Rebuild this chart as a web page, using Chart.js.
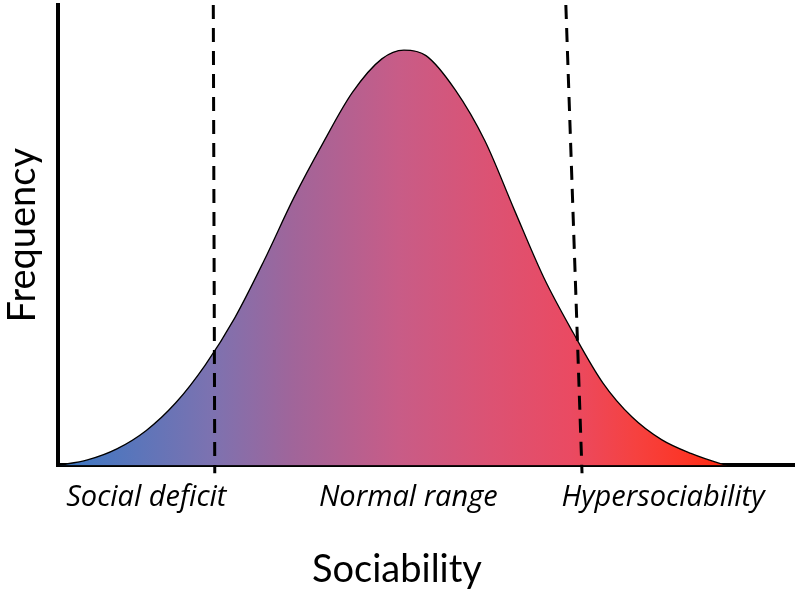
<!DOCTYPE html>
<html>
<head>
<meta charset="utf-8">
<script src="https://cdn.jsdelivr.net/npm/chart.js@4/dist/chart.umd.min.js"></script>
<style>
  html, body { margin: 0; padding: 0; background: #fff; }
  #wrap { width: 800px; height: 600px; }
</style>
</head>
<body>
<div id="wrap"><canvas id="chart"></canvas></div>
<script>
// sociability (0-100) vs frequency (0-100)
const sociability = [0, 4, 8, 12, 16, 20, 24, 28, 32, 36, 40, 44, 47, 50, 54, 58, 62, 66, 70, 74, 78, 82, 86, 90, 91];
const frequency   = [0, 1.2, 3.6, 7.6, 13.6, 21.8, 32, 44.5, 58, 70, 81, 88.3, 90.2, 89, 81.5, 70.5, 55.5, 40.8, 28.8, 18, 10.5, 5.6, 2.6, 0.4, 0];

// dashed cut-off lines (top and bottom ends)
const deficitCutX = [21.1, 21.3];
const hyperCutX   = [69.0, 71.2];
const cutY        = [100, -1.7];

const regionLabels  = ['Social deficit', 'Normal range', 'Hypersociability'];
const regionCenters = [12.0, 47.6, 82.2];

const gradStops  = [0, 0.23, 0.35, 0.51, 0.65, 0.77, 0.87, 0.94, 1];
const gradColors = ['#3a78c4', '#7d72b0', '#a0659a', '#c85c87', '#dc5273', '#ea4a62', '#f6413f', '#fc3628', '#ff2a12'];

const curvePts = sociability.map((x, i) => ({ x: x, y: frequency[i] }));
const cutLine = xs => xs.map((x, i) => ({ x: x, y: cutY[i] }));

function curveFill(context) {
    const chart = context.chart;
    const xs = chart.scales.x;
    if (!xs || !chart.chartArea) return 'rgba(0,0,0,0)';
    const g = chart.ctx.createLinearGradient(xs.getPixelForValue(0.3), 0, xs.getPixelForValue(90.4), 0);
    gradStops.forEach((s, i) => g.addColorStop(s, gradColors[i]));
    return g;
}

const dashed = {
    borderColor: '#000',
    borderWidth: 3,
    borderDash: [14, 9],
    pointRadius: 0,
    fill: false,
    clip: false
};

new Chart(document.getElementById('chart'), {
    type: 'line',
    data: {
        datasets: [
            { ...dashed, data: cutLine(deficitCutX) },
            { ...dashed, data: cutLine(hyperCutX) },
            {
                data: curvePts,
                borderColor: '#000',
                borderWidth: 1.3,
                backgroundColor: curveFill,
                fill: 'origin',
                pointRadius: 0,
                cubicInterpolationMode: 'monotone'
            }
        ]
    },
    options: {
        responsive: true,
        maintainAspectRatio: false,
        animation: false,
        layout: { padding: { top: 5, right: 6, left: 0, bottom: 0 } },
        scales: {
            x: {
                type: 'linear',
                min: 0,
                max: 100,
                z: 1,
                grid: { display: false, drawTicks: false },
                border: { display: true, color: '#000', width: 4 },
                afterBuildTicks: s => { s.ticks = regionCenters.map(v => ({ value: v })); },
                afterFit: s => { s.height = 70; },
                ticks: {
                    autoSkip: false,
                    maxRotation: 0,
                    padding: 15,
                    color: '#000',
                    font: { family: 'Open Sans', size: 29, style: 'italic' },
                    callback: (v, i) => regionLabels[i]
                }
            },
            y: {
                min: 0,
                max: 100,
                z: 1,
                grid: { display: false, drawTicks: false },
                border: { display: true, color: '#000', width: 4 },
                afterFit: s => { s.width = 58; },
                ticks: { display: false },
                title: {
                    display: true,
                    text: 'Frequency',
                    color: '#000',
                    padding: 0,
                    font: { family: 'Lato', size: 38 }
                }
            }
        },
        plugins: {
            legend: { display: false },
            tooltip: { enabled: false },
            title: {
                display: true,
                position: 'bottom',
                text: 'Sociability',
                color: '#000',
                padding: { top: 12, bottom: 7 },
                font: { family: 'Lato', size: 38, weight: 'normal' }
            }
        }
    }
});
</script>
</body>
</html>
